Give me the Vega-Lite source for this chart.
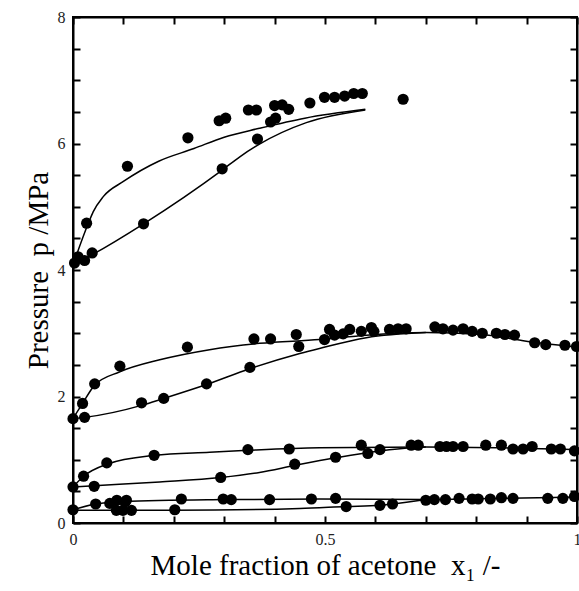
{
  "$schema": "https://vega.github.io/schema/vega-lite/v6.json",
  "width": 504,
  "height": 506,
  "autosize": {"type": "none"},
  "padding": {"left": 73, "top": 17, "right": 2, "bottom": 68},
  "background": "white",
  "config": {
    "view": {"stroke": "black", "strokeWidth": 2},
    "axis": {
      "domainColor": "black",
      "domainWidth": 2,
      "tickColor": "black",
      "tickWidth": 2,
      "ticks": true,
      "tickSize": -7,
      "grid": false,
      "labelFont": "Liberation Serif",
      "labelFontSize": 16,
      "labelPadding": 15,
      "labelOverlap": false,
      "labelFlush": false
    }
  },
  "datasets": {
    "lines": [
      {"curve": "T_up", "x": 0.0, "p": 4.08},
      {"curve": "T_up", "x": 0.03, "p": 4.73},
      {"curve": "T_up", "x": 0.04, "p": 4.92},
      {"curve": "T_up", "x": 0.06, "p": 5.16},
      {"curve": "T_up", "x": 0.1, "p": 5.4},
      {"curve": "T_up", "x": 0.17, "p": 5.72},
      {"curve": "T_up", "x": 0.24, "p": 5.92},
      {"curve": "T_up", "x": 0.3, "p": 6.1},
      {"curve": "T_up", "x": 0.37, "p": 6.24},
      {"curve": "T_up", "x": 0.46, "p": 6.4},
      {"curve": "T_up", "x": 0.58, "p": 6.54},
      {"curve": "T_lo", "x": 0.0, "p": 4.08},
      {"curve": "T_lo", "x": 0.04, "p": 4.25},
      {"curve": "T_lo", "x": 0.14, "p": 4.73},
      {"curve": "T_lo", "x": 0.296, "p": 5.58},
      {"curve": "T_lo", "x": 0.331, "p": 5.79},
      {"curve": "T_lo", "x": 0.37, "p": 5.99},
      {"curve": "T_lo", "x": 0.463, "p": 6.33},
      {"curve": "T_lo", "x": 0.58, "p": 6.53},
      {"curve": "M_up", "x": 0.0, "p": 1.65},
      {"curve": "M_up", "x": 0.019, "p": 1.89},
      {"curve": "M_up", "x": 0.043, "p": 2.18},
      {"curve": "M_up", "x": 0.093, "p": 2.39},
      {"curve": "M_up", "x": 0.172, "p": 2.58},
      {"curve": "M_up", "x": 0.271, "p": 2.74},
      {"curve": "M_up", "x": 0.37, "p": 2.84},
      {"curve": "M_up", "x": 0.489, "p": 2.9},
      {"curve": "M_up", "x": 0.582, "p": 2.97},
      {"curve": "M_up", "x": 0.7, "p": 3.01},
      {"curve": "M_up", "x": 0.81, "p": 2.98},
      {"curve": "M_up", "x": 0.91, "p": 2.86},
      {"curve": "M_up", "x": 1.0, "p": 2.78},
      {"curve": "M_lo", "x": 0.0, "p": 1.65},
      {"curve": "M_lo", "x": 0.023, "p": 1.67},
      {"curve": "M_lo", "x": 0.136, "p": 1.86},
      {"curve": "M_lo", "x": 0.18, "p": 1.97},
      {"curve": "M_lo", "x": 0.265, "p": 2.19},
      {"curve": "M_lo", "x": 0.351, "p": 2.44},
      {"curve": "M_lo", "x": 0.45, "p": 2.68},
      {"curve": "M_lo", "x": 0.489, "p": 2.76},
      {"curve": "M_lo", "x": 0.582, "p": 2.93},
      {"curve": "M_lo", "x": 0.7, "p": 3.01},
      {"curve": "L_up", "x": 0.0, "p": 0.57},
      {"curve": "L_up", "x": 0.021, "p": 0.74},
      {"curve": "L_up", "x": 0.067, "p": 0.93},
      {"curve": "L_up", "x": 0.161, "p": 1.07},
      {"curve": "L_up", "x": 0.271, "p": 1.12},
      {"curve": "L_up", "x": 0.347, "p": 1.15},
      {"curve": "L_up", "x": 0.489, "p": 1.19},
      {"curve": "L_up", "x": 0.7, "p": 1.2},
      {"curve": "L_up", "x": 1.0, "p": 1.16},
      {"curve": "L_lo", "x": 0.0, "p": 0.57},
      {"curve": "L_lo", "x": 0.042, "p": 0.59},
      {"curve": "L_lo", "x": 0.172, "p": 0.65},
      {"curve": "L_lo", "x": 0.293, "p": 0.72},
      {"curve": "L_lo", "x": 0.37, "p": 0.8},
      {"curve": "L_lo", "x": 0.44, "p": 0.91},
      {"curve": "L_lo", "x": 0.521, "p": 1.03},
      {"curve": "L_lo", "x": 0.609, "p": 1.14},
      {"curve": "L_lo", "x": 0.671, "p": 1.19},
      {"curve": "L_lo", "x": 0.7, "p": 1.2},
      {"curve": "B_up", "x": 0.0, "p": 0.21},
      {"curve": "B_up", "x": 0.045, "p": 0.3},
      {"curve": "B_up", "x": 0.1, "p": 0.34},
      {"curve": "B_up", "x": 0.3, "p": 0.37},
      {"curve": "B_up", "x": 0.489, "p": 0.38},
      {"curve": "B_up", "x": 0.7, "p": 0.37},
      {"curve": "B_up", "x": 0.85, "p": 0.39},
      {"curve": "B_up", "x": 1.0, "p": 0.41},
      {"curve": "B_lo", "x": 0.0, "p": 0.2},
      {"curve": "B_lo", "x": 0.2, "p": 0.2},
      {"curve": "B_lo", "x": 0.45, "p": 0.23},
      {"curve": "B_lo", "x": 0.542, "p": 0.26},
      {"curve": "B_lo", "x": 0.609, "p": 0.28},
      {"curve": "B_lo", "x": 0.634, "p": 0.3},
      {"curve": "B_lo", "x": 0.7, "p": 0.37}
    ],
    "pts": [
      {"x": 0.003, "p": 4.11}, {"x": 0.023, "p": 4.15}, {"x": 0.01, "p": 4.21}, {"x": 0.038, "p": 4.27},
      {"x": 0.027, "p": 4.74}, {"x": 0.14, "p": 4.73}, {"x": 0.108, "p": 5.64}, {"x": 0.228, "p": 6.09},
      {"x": 0.296, "p": 5.6}, {"x": 0.29, "p": 6.36}, {"x": 0.303, "p": 6.4}, {"x": 0.348, "p": 6.53},
      {"x": 0.364, "p": 6.53}, {"x": 0.366, "p": 6.07}, {"x": 0.4, "p": 6.6}, {"x": 0.415, "p": 6.61},
      {"x": 0.428, "p": 6.54}, {"x": 0.392, "p": 6.34}, {"x": 0.402, "p": 6.4}, {"x": 0.47, "p": 6.64},
      {"x": 0.499, "p": 6.73}, {"x": 0.519, "p": 6.73}, {"x": 0.539, "p": 6.75}, {"x": 0.557, "p": 6.79},
      {"x": 0.574, "p": 6.79}, {"x": 0.655, "p": 6.7},
      {"x": 0.0, "p": 1.65}, {"x": 0.019, "p": 1.89}, {"x": 0.023, "p": 1.67}, {"x": 0.043, "p": 2.2},
      {"x": 0.093, "p": 2.48}, {"x": 0.136, "p": 1.9}, {"x": 0.18, "p": 1.97}, {"x": 0.227, "p": 2.78},
      {"x": 0.265, "p": 2.2}, {"x": 0.351, "p": 2.46}, {"x": 0.359, "p": 2.91}, {"x": 0.392, "p": 2.91},
      {"x": 0.443, "p": 2.98}, {"x": 0.448, "p": 2.79}, {"x": 0.499, "p": 2.9}, {"x": 0.509, "p": 3.06},
      {"x": 0.519, "p": 2.97}, {"x": 0.536, "p": 2.99}, {"x": 0.549, "p": 3.06}, {"x": 0.572, "p": 3.03},
      {"x": 0.592, "p": 3.09}, {"x": 0.597, "p": 3.03}, {"x": 0.628, "p": 3.06}, {"x": 0.645, "p": 3.07},
      {"x": 0.661, "p": 3.07}, {"x": 0.718, "p": 3.1}, {"x": 0.734, "p": 3.07}, {"x": 0.754, "p": 3.05},
      {"x": 0.774, "p": 3.07}, {"x": 0.792, "p": 3.03}, {"x": 0.812, "p": 3.0}, {"x": 0.84, "p": 3.0},
      {"x": 0.857, "p": 2.98}, {"x": 0.876, "p": 2.97}, {"x": 0.916, "p": 2.85}, {"x": 0.938, "p": 2.82},
      {"x": 0.976, "p": 2.81}, {"x": 0.999, "p": 2.79},
      {"x": 0.0, "p": 0.57}, {"x": 0.021, "p": 0.74}, {"x": 0.042, "p": 0.58}, {"x": 0.067, "p": 0.95},
      {"x": 0.161, "p": 1.07}, {"x": 0.293, "p": 0.72}, {"x": 0.347, "p": 1.16}, {"x": 0.429, "p": 1.17},
      {"x": 0.44, "p": 0.93}, {"x": 0.521, "p": 1.04}, {"x": 0.572, "p": 1.23}, {"x": 0.585, "p": 1.1},
      {"x": 0.609, "p": 1.16}, {"x": 0.671, "p": 1.23}, {"x": 0.685, "p": 1.23}, {"x": 0.728, "p": 1.21},
      {"x": 0.741, "p": 1.21}, {"x": 0.754, "p": 1.21}, {"x": 0.774, "p": 1.21}, {"x": 0.819, "p": 1.23},
      {"x": 0.85, "p": 1.23}, {"x": 0.873, "p": 1.17}, {"x": 0.893, "p": 1.17}, {"x": 0.911, "p": 1.21},
      {"x": 0.949, "p": 1.17}, {"x": 0.967, "p": 1.17}, {"x": 0.995, "p": 1.14},
      {"x": 0.0, "p": 0.21}, {"x": 0.045, "p": 0.3}, {"x": 0.073, "p": 0.31}, {"x": 0.087, "p": 0.36},
      {"x": 0.103, "p": 0.33}, {"x": 0.106, "p": 0.36}, {"x": 0.086, "p": 0.2}, {"x": 0.099, "p": 0.2},
      {"x": 0.116, "p": 0.2}, {"x": 0.202, "p": 0.21}, {"x": 0.215, "p": 0.38}, {"x": 0.298, "p": 0.38},
      {"x": 0.314, "p": 0.37}, {"x": 0.39, "p": 0.37}, {"x": 0.473, "p": 0.38}, {"x": 0.521, "p": 0.39},
      {"x": 0.542, "p": 0.26}, {"x": 0.609, "p": 0.28}, {"x": 0.634, "p": 0.3}, {"x": 0.7, "p": 0.36},
      {"x": 0.717, "p": 0.37}, {"x": 0.739, "p": 0.37}, {"x": 0.766, "p": 0.39}, {"x": 0.792, "p": 0.38},
      {"x": 0.804, "p": 0.38}, {"x": 0.828, "p": 0.38}, {"x": 0.85, "p": 0.4}, {"x": 0.873, "p": 0.39},
      {"x": 0.942, "p": 0.39}, {"x": 0.972, "p": 0.39}, {"x": 0.995, "p": 0.42}
    ]
  },
  "layer": [
    {
      "data": {"name": "pts"},
      "mark": {"type": "circle", "size": 125, "color": "black", "opacity": 1},
      "encoding": {
        "x": {
          "field": "x", "type": "quantitative",
          "scale": {"domain": [0, 1], "nice": false, "zero": false},
          "axis": {
            "orient": "bottom",
            "values": [0, 0.1, 0.2, 0.3, 0.4, 0.5, 0.6, 0.7, 0.8, 0.9, 1],
            "format": "~g",
            "labelExpr": "datum.value == 0 || datum.value == 0.5 || datum.value == 1 ? datum.label : ''",
            "labelColor": "#222",
            "title": "Mole fraction of acetone\u00a0 x₁ /-",
            "titleFont": "Liberation Serif",
            "titleFontSize": 29,
            "titleFontWeight": "normal",
            "titleColor": "black"
          }
        },
        "y": {
          "field": "p", "type": "quantitative",
          "scale": {"domain": [0, 8], "nice": false, "zero": false},
          "axis": {
            "orient": "left",
            "values": [0, 0.5, 1, 1.5, 2, 2.5, 3, 3.5, 4, 4.5, 5, 5.5, 6, 6.5, 7, 7.5, 8],
            "format": "~g",
            "labelExpr": "datum.value % 2 == 0 ? datum.label : ''",
            "labelColor": "#222",
            "title": "Pressure\u00a0 p /MPa",
            "titleFont": "Liberation Serif",
            "titleFontSize": 29,
            "titleFontWeight": "normal",
            "titleColor": "black"
          }
        }
      }
    },
    {
      "data": {"name": "lines"},
      "mark": {"type": "line", "interpolate": "monotone", "color": "black", "strokeWidth": 1.5},
      "encoding": {
        "x": {
          "field": "x", "type": "quantitative",
          "axis": {
            "orient": "top",
            "values": [0, 0.1, 0.2, 0.3, 0.4, 0.5, 0.6, 0.7, 0.8, 0.9, 1],
            "labels": false,
            "title": null
          }
        },
        "y": {
          "field": "p", "type": "quantitative",
          "axis": {
            "orient": "right",
            "values": [0, 0.5, 1, 1.5, 2, 2.5, 3, 3.5, 4, 4.5, 5, 5.5, 6, 6.5, 7, 7.5, 8],
            "labels": false,
            "title": null
          }
        },
        "detail": {"field": "curve"}
      }
    }
  ],
  "resolve": {"axis": {"x": "independent", "y": "independent"}}
}
